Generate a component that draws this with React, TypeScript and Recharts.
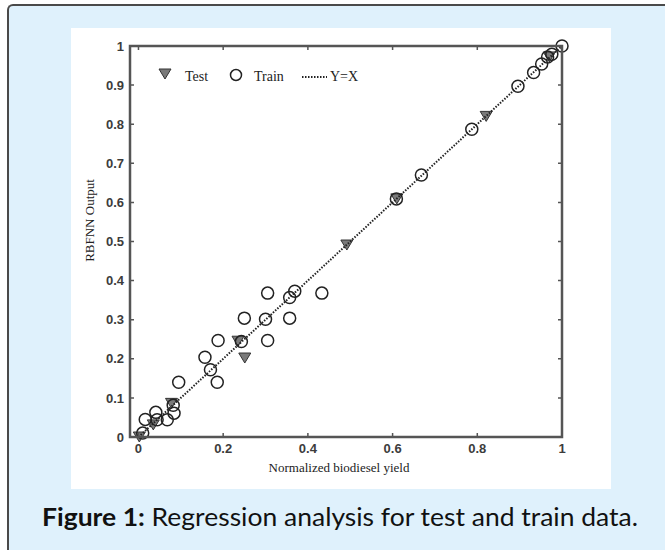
import { ScatterChart, Scatter, XAxis, YAxis, Legend } from "recharts";

// values
const xTicks = [0, 0.2, 0.4, 0.6, 0.8, 1];
const yTicks = [0, 0.1, 0.2, 0.3, 0.4, 0.5, 0.6, 0.7, 0.8, 0.9, 1];

const trainX = [1.0, 0.976, 0.966, 0.952, 0.933, 0.896, 0.787, 0.668, 0.609, 0.369, 0.357, 0.305, 0.433, 0.25, 0.3, 0.357, 0.188, 0.305, 0.243, 0.157, 0.17, 0.186, 0.095, 0.082, 0.084, 0.068, 0.041, 0.016, 0.044, 0.01];
const trainY = [1.0, 0.979, 0.972, 0.954, 0.932, 0.897, 0.787, 0.67, 0.609, 0.373, 0.357, 0.368, 0.368, 0.304, 0.301, 0.304, 0.247, 0.247, 0.244, 0.204, 0.172, 0.14, 0.14, 0.081, 0.061, 0.044, 0.063, 0.045, 0.044, 0.01];

const testX = [0.97, 0.821, 0.61, 0.492, 0.235, 0.251, 0.078, 0.035, 0.002];
const testY = [0.972, 0.82, 0.609, 0.491, 0.245, 0.202, 0.086, 0.031, 0.0];

const lineX = [0, 1];
const lineY = [0, 1];

const trainData = trainX.map((x, i) => ({ x, y: trainY[i] }));
const testData = testX.map((x, i) => ({ x, y: testY[i] }));
const lineData = lineX.map((x, i) => ({ x, y: lineY[i] }));

// layout
const W = 665;
const H = 550;
const Y_AXIS_W = 40;
const X_AXIS_H = 30;
const plot = { left: 130, top: 46, right: 562, bottom: 437 };

const AXIS = "#555";
const TICK_LEN = 4;
const tickFont = { fontFamily: "'Liberation Sans', Arial, sans-serif", fontSize: 13, fontWeight: 700, fill: "#3c3c3c" };
const serif = "'Liberation Serif', 'Times New Roman', serif";

const fmt = (v: number) => String(v);

// MATLAB-like box: ticks point inward on all four sides
const BottomTick = (props: any) => {
  const { x, y, payload } = props;
  return (
    <g>
      <path d={`M${x},${plot.bottom}V${plot.bottom - TICK_LEN}M${x},${plot.top}V${plot.top + TICK_LEN}`} stroke={AXIS} strokeWidth={1.5} fill="none" />
      <text x={x} y={y} dy="0.71em" textAnchor="middle" {...tickFont}>
        {fmt(payload.value)}
      </text>
    </g>
  );
};

const LeftTick = (props: any) => {
  const { x, y, payload } = props;
  return (
    <g>
      <path d={`M${plot.left},${y}H${plot.left + TICK_LEN}M${plot.right},${y}H${plot.right - TICK_LEN}`} stroke={AXIS} strokeWidth={1.5} fill="none" />
      <text x={x} y={y} dy="0.355em" textAnchor="end" {...tickFont}>
        {fmt(payload.value)}
      </text>
    </g>
  );
};

const TrainDot = (props: any) => (
  <circle cx={props.cx} cy={props.cy} r={6} fill="none" stroke="#222" strokeWidth={1.5} />
);

const TestDot = (props: any) => {
  const { cx, cy } = props;
  return (
    <polygon
      points={`${cx - 6},${cy - 5} ${cx + 6},${cy - 5} ${cx},${cy + 5}`}
      fill="#7a7a7a"
      stroke="#333"
      strokeWidth={1}
    />
  );
};

const NoDot = () => <g />;

const LegendBox = () => (
  <svg width={220} height={28} style={{ display: "block" }}>
    <polygon points="4,6 16,6 10,16" fill="#7a7a7a" stroke="#333" strokeWidth={1} />
    <text x={30} y={18} fontFamily={serif} fontSize={14} fill="#222">Test</text>
    <circle cx={81} cy={12} r={5.5} fill="none" stroke="#222" strokeWidth={1.5} />
    <text x={99} y={18} fontFamily={serif} fontSize={14} fill="#222">Train</text>
    <line x1={147} x2={172} y1={14} y2={14} stroke="#222" strokeWidth={2} strokeDasharray="1.5 1.5" />
    <text x={175} y={18} fontFamily={serif} fontSize={14} fill="#222">Y=X</text>
  </svg>
);

export default function App() {
  return (
    <div style={{ position: "fixed", left: 0, top: 0, width: W, height: H, background: "#fff", overflow: "hidden" }}>
      <div
        style={{
          position: "absolute",
          left: 7,
          top: 4,
          width: 700,
          height: 600,
          background: "#dff1fc",
          borderTop: "2px solid #4a4a4a",
          borderLeft: "2px solid #4a4a4a",
          borderTopLeftRadius: 6,
        }}
      />
      <div style={{ position: "absolute", left: 71, top: 28, width: 540, height: 461, background: "#fff" }} />

      <div style={{ position: "absolute", left: 0, top: 0 }}>
        <ScatterChart
          width={W}
          height={H}
          margin={{
            top: plot.top,
            right: W - plot.right,
            bottom: H - plot.bottom - X_AXIS_H,
            left: plot.left - Y_AXIS_W,
          }}
        >
          <XAxis
            type="number"
            dataKey="x"
            domain={[-0.02, 1]}
            ticks={xTicks}
            interval={0}
            height={X_AXIS_H}
            tickSize={0}
            tickMargin={7}
            tick={<BottomTick />}
            axisLine={false}
            label={{
              content: (p: any) => {
                const vb = p.viewBox;
                return (
                  <text x={vb.x + vb.width / 2 - 7} y={vb.y + 35} textAnchor="middle" fontFamily={serif} fontSize={13} fill="#222">
                    Normalized biodiesel yield
                  </text>
                );
              },
            }}
          />
          <YAxis
            type="number"
            dataKey="y"
            domain={[0, 1]}
            ticks={yTicks}
            interval={0}
            width={Y_AXIS_W}
            tickSize={0}
            tickMargin={6}
            tick={<LeftTick />}
            axisLine={false}
            label={{
              content: (p: any) => {
                const vb = p.viewBox;
                const cx = vb.x - 1;
                const cy = vb.y + vb.height / 2 - 21;
                return (
                  <text
                    x={cx}
                    y={cy}
                    transform={`rotate(-90 ${cx} ${cy})`}
                    textAnchor="middle"
                    dominantBaseline="central"
                    fontFamily={serif}
                    fontSize={13}
                    fill="#222"
                  >
                    RBFNN Output
                  </text>
                );
              },
            }}
          />
          <Legend
            layout="vertical"
            align="center"
            verticalAlign="middle"
            content={() => <LegendBox />}
            wrapperStyle={{ left: 155, top: 63, width: 220, height: 28 }}
          />
          <Scatter name="Test" data={testData} shape={<TestDot />} isAnimationActive={false} />
          <Scatter name="Train" data={trainData} shape={<TrainDot />} isAnimationActive={false} />
          <Scatter
            name="Y=X"
            data={lineData}
            shape={<NoDot />}
            line={{ stroke: "#222", strokeWidth: 2, strokeDasharray: "1.5 1.5" }}
            isAnimationActive={false}
          />
        </ScatterChart>
      </div>

      {/* plot box, drawn over the chart */}
      <svg width={W} height={H} style={{ position: "absolute", left: 0, top: 0, pointerEvents: "none" }}>
        <path
          d={`M${plot.left},${plot.top}H${plot.right}V${plot.bottom}H${plot.left}Z`}
          fill="none"
          stroke="#555"
          strokeWidth={2.5}
        />
        <text x={42} y={526} textLength={596} lengthAdjust="spacingAndGlyphs" fontFamily="Lato, 'Noto Sans', sans-serif" fontSize={25} fill="#111">
          <tspan fontWeight="bold">Figure 1:</tspan>
          <tspan> Regression analysis for test and train data.</tspan>
        </text>
      </svg>
    </div>
  );
}
